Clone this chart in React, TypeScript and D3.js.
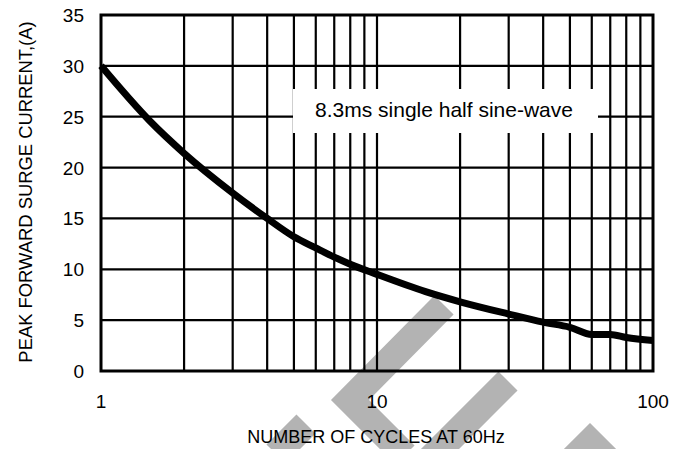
import React from 'react'
import * as d3 from 'd3'

// surge current vs number of cycles
const cycles = [1, 1.5, 2, 3, 4, 5, 6, 7, 8, 10, 15, 20, 30, 40, 50, 60, 70, 80, 100]
const current = [30, 24.6, 21.4, 17.5, 15, 13.2, 12.1, 11.2, 10.5, 9.5, 7.8, 6.8, 5.6, 4.8, 4.3, 3.6, 3.6, 3.3, 3.0]

const xTicks = [1, 10, 100]
const yTicks = [0, 5, 10, 15, 20, 25, 30, 35]
const xGrid = [2, 3, 4, 5, 6, 7, 8, 9, 10, 20, 30, 40, 50, 60, 70, 80, 90]

const note = '8.3ms single half sine-wave'
const xTitle = 'NUMBER OF CYCLES AT 60Hz'
const yTitle = 'PEAK FORWARD SURGE CURRENT,(A)'

// grey watermark strokes
const watermark = [
  [[444, 305], [350, 400], [405, 455]],
  [[508, 381], [430, 459]],
  [[306, 424], [276, 454]],
  [[562, 470], [590, 442], [618, 470]],
]

const W = 688
const H = 449
const left = 101
const right = 653
const top = 15
const bottom = 371
const font = '"Liberation Sans", Arial, sans-serif'

export default function App() {
  const x = d3.scaleLog().domain([1, 100]).range([left, right])
  const y = d3.scaleLinear().domain([0, 35]).range([bottom, top])

  const line = d3.line<number>()
    .x((d, i) => x(cycles[i]))
    .y(d => y(d))
    .curve(d3.curveMonotoneX)

  const wm = d3.line()

  return (
    <div style={{position: 'absolute', left: 0, top: 0}}>
      <svg width={W} height={H} style={{display: 'block', background: '#fff'}}>
        {watermark.map((p, i) => (
          <path key={i} d={wm(p as [number, number][]) || ''} fill="none"
            stroke="#b3b3b3" strokeWidth={27} strokeLinejoin="miter" />
        ))}

        {xGrid.map(v => (
          <line key={v} x1={x(v)} x2={x(v)} y1={top} y2={bottom} stroke="#000" strokeWidth={2.2} />
        ))}
        {yTicks.slice(1, -1).map(v => (
          <line key={v} x1={left} x2={right} y1={y(v)} y2={y(v)} stroke="#000" strokeWidth={2.2} />
        ))}

        <rect x={293} y={89} width={305} height={44} fill="#fff" />
        <text x={444} y={117} textAnchor="middle" fontFamily={font} fontSize={21}>{note}</text>

        <rect x={left} y={top} width={right - left} height={bottom - top} fill="none" stroke="#000" strokeWidth={3} />

        <path d={line(current) || ''} fill="none" stroke="#000" strokeWidth={7} strokeLinecap="butt" />

        {yTicks.map(v => (
          <text key={v} x={84} y={y(v) + 7} textAnchor="end" fontFamily={font} fontSize={19}>{v}</text>
        ))}
        {xTicks.map(v => (
          <text key={v} x={x(v)} y={408} textAnchor="middle" fontFamily={font} fontSize={19}>{v}</text>
        ))}

        <text x={376} y={443} textAnchor="middle" fontFamily={font} fontSize={18}>{xTitle}</text>
        <text transform={`translate(32,192) rotate(-90)`} textAnchor="middle" fontFamily={font} fontSize={18.4}>{yTitle}</text>
      </svg>
    </div>
  )
}
